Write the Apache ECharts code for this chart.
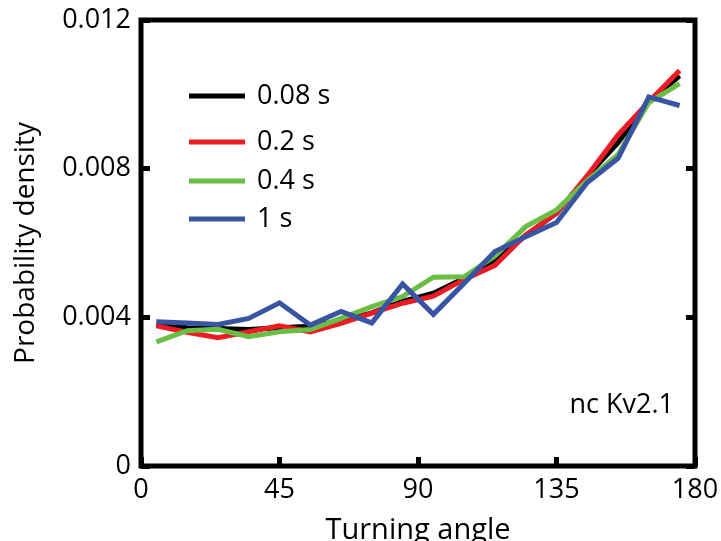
<!DOCTYPE html>
<html>
<head>
<meta charset="utf-8">
<script src="https://cdn.jsdelivr.net/npm/echarts@6/dist/echarts.min.js"></script>
<style>
html,body{margin:0;padding:0;background:#fff;}
#c{width:721px;height:541px;}
</style>
</head>
<body>
<div id="c"></div>
<script>
// Bin centres (degrees)
const angles = [5,15,25,35,45,55,65,75,85,95,105,115,125,135,145,155,165,175];
// Probability density per lag
const dens008 = [0.00382,0.00372,0.00370,0.00367,0.00372,0.00376,0.00390,0.00412,0.00443,0.00465,0.00505,0.00555,0.00620,0.00680,0.00780,0.00870,0.00980,0.01050];
const dens02  = [0.00377,0.00360,0.00345,0.00361,0.00377,0.00361,0.00384,0.00411,0.00438,0.00457,0.00502,0.00540,0.00622,0.00680,0.00781,0.00891,0.00980,0.01064];
const dens04  = [0.00334,0.00364,0.00368,0.00348,0.00361,0.00367,0.00397,0.00429,0.00456,0.00508,0.00509,0.00565,0.00644,0.00689,0.00768,0.00838,0.00978,0.01029];
const dens1   = [0.00388,0.00385,0.00381,0.00397,0.00439,0.00379,0.00416,0.00385,0.00490,0.00408,0.00492,0.00577,0.00617,0.00655,0.00763,0.00828,0.00993,0.00970];
const seriesNames = ['0.08 s','0.2 s','0.4 s','1 s'];
const xTicks = [0,45,90,135,180];
const yTickLabels = ['0','0.004','0.008','0.012'];
const annotation = 'nc Kv2.1';

const colors = ['#000000','#ED1C24','#6ABD45','#3A54A4'];
const FONT = 'Open Sans';
const allData = [dens008, dens02, dens04, dens1];
const legendTops = [96, 142, 181, 219];

const chart = echarts.init(document.getElementById('c'), null, {renderer:'canvas'});
const series = allData.map((arr, i) => ({
  name: seriesNames[i],
  type: 'line',
  data: angles.map((a, j) => [a, arr[j]]),
  showSymbol: false,
  symbol: 'none',
  lineStyle: {color: colors[i], width: 5, join: 'miter'},
  itemStyle: {color: colors[i]},
  z: 2 + i,
  animation: false
}));

const legends = seriesNames.map((n, i) => ({
  data: [n],
  left: 189,
  top: legendTops[i] - 16,
  padding: 0,
  icon: 'rect',
  itemWidth: 56,
  itemHeight: 5,
  selectedMode: false,
  textStyle: {fontFamily: FONT, fontSize: 27, color: '#000', lineHeight: 32, padding: [0,0,0,7]}
}));

chart.setOption({
  animation: false,
  backgroundColor: '#fff',
  grid: {left: 141, right: 26, top: 20, bottom: 75, show: true, borderColor: '#000', borderWidth: 5,
         backgroundColor: 'transparent', containLabel: false, outerBoundsMode: 'none'},
  legend: legends,
  xAxis: {
    type: 'value', min: xTicks[0], max: xTicks[xTicks.length-1], interval: 45,
    name: 'Turning angle', nameLocation: 'middle', nameGap: 50,
    nameTextStyle: {fontFamily: FONT, fontSize: 29, color: '#000'},
    axisLine: {show: false},
    axisTick: {show: true, inside: true, length: 9, lineStyle: {color: '#000', width: 5}},
    splitLine: {show: false},
    axisLabel: {fontFamily: FONT, fontSize: 27, color: '#000', margin: 11}
  },
  yAxis: [{
    type: 'value', min: 0, max: 0.012, interval: 0.004,
    name: 'Probability density', nameLocation: 'middle', nameGap: 101,
    nameTextStyle: {fontFamily: FONT, fontSize: 28, color: '#000'},
    axisLine: {show: false},
    axisTick: {show: true, inside: true, length: 9, lineStyle: {color: '#000', width: 5}},
    splitLine: {show: false},
    axisLabel: {fontFamily: FONT, fontSize: 27, color: '#000', margin: 10,
      formatter: (v) => yTickLabels[Math.round(v / 0.004)]}
  },{
    type: 'value', min: 0, max: 0.012, interval: 0.004, position: 'right',
    axisLine: {show: false},
    axisTick: {show: true, inside: true, length: 9, lineStyle: {color: '#000', width: 5}},
    splitLine: {show: false},
    axisLabel: {show: false}
  }],
  graphic: [{
    type: 'text', right: 721 - 674, top: 392,
    style: {text: annotation, font: '27px "Open Sans"', fill: '#000'}
  }],
  series: series
});
</script>
</body>
</html>
